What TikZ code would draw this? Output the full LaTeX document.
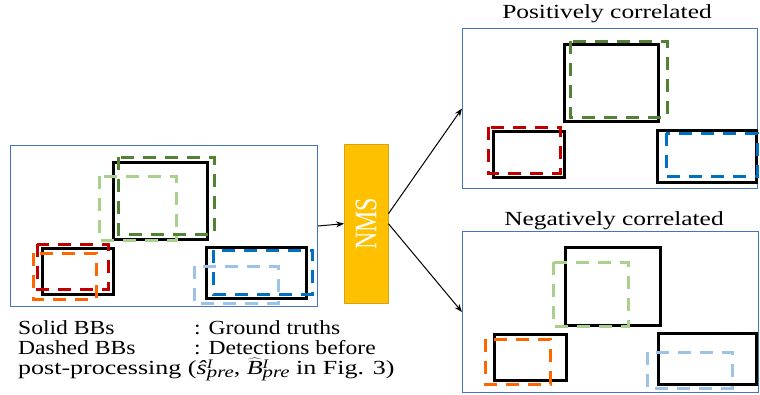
\documentclass[tikz,border=0pt]{standalone}
\usepackage{fontspec}
\setmainfont{Liberation Serif}
\usetikzlibrary{arrows.meta}

\definecolor{framecol}{HTML}{4472C4}
\definecolor{dkgreen}{HTML}{548235}
\definecolor{ltgreen}{HTML}{A9D18E}
\definecolor{dkred}{HTML}{C00000}
\definecolor{orng}{HTML}{FF6600}
\definecolor{dkblue}{HTML}{0070C0}
\definecolor{ltblue}{HTML}{9DC3E6}
\definecolor{nmsfill}{HTML}{FFC000}
\definecolor{nmsline}{HTML}{CFA420}

\newcommand{\wide}[2][1.18]{\scalebox{#1}[1]{#2}}
% small italic index pair, upper I and lower pre
\newcommand{\idx}{\makebox[0pt][l]{\raisebox{6pt}{\fontsize{13}{13}\selectfont\textit{I}}}%
    \raisebox{-3pt}{\fontsize{16}{16}\selectfont\textit{pre}}}

\tikzset{
    gt/.style={draw=black, line width=3pt},
    det/.style={line width=3pt, dash pattern=on 13pt off 9pt},
    frame/.style={draw=framecol, line width=1pt, inner sep=0pt, anchor=north west},
    txt/.style={anchor=base west, inner sep=0pt, font=\fontsize{20}{20}\selectfont},
    ttl/.style={anchor=base, inner sep=0pt, font=\fontsize{20}{20}\selectfont},
    arr/.style={-{Stealth[length=8pt, width=6pt]}, line width=1pt},
}

\begin{document}
\begin{tikzpicture}[x=1pt, y=-1pt]
    \useasboundingbox (0, 0) rectangle (760, 394);
    %\draw[lightgray] (0, 0) grid[step=50] (760, 394);

    % before NMS
    \node[frame, minimum width=307pt, minimum height=161pt] (inp) at (10, 145) {};
    \draw[gt] (113, 162) rectangle (207, 239);
    \draw[gt] (42, 248) rectangle (113, 294);
    \draw[gt] (206, 247) rectangle (306, 298);
    \draw[det, ltgreen] (99, 176) rectangle (176, 240);
    \draw[det, dkgreen] (118, 157) rectangle (214, 234);
    \draw[det, dkred] (37, 244) rectangle (108, 289);
    \draw[det, orng] (33, 253) rectangle (96, 299);
    \draw[det, dkblue] (213, 250) rectangle (312, 294);
    \draw[det, ltblue] (194, 266) rectangle (278, 303);

    % NMS block
    \node[fill=nmsfill, draw=nmsline, minimum width=44pt, minimum height=159pt,
          inner sep=0pt, anchor=north west] (nms) at (344, 144) {};
    \node[rotate=90, text=white, font=\fontsize{24}{24}\selectfont] (nmslbl) at (nms)
        {\scalebox{1}[1.3]{NMS}};

    % positively correlated
    \node[frame, minimum width=295pt, minimum height=160pt] (pos) at (462, 28) {};
    \node[ttl] (postitle) at (607, 18) {\wide[1.27]{Positively correlated}};
    \draw[gt] (564, 44) rectangle (658, 121);
    \draw[gt] (493, 131) rectangle (564, 177);
    \draw[gt] (657, 130) rectangle (756, 182);
    \draw[det, dkgreen] (570, 41) rectangle (667, 117);
    \draw[det, dkred] (488, 127) rectangle (560, 173);
    \draw[det, dkblue] (666, 133) rectangle (757, 176);

    % negatively correlated
    \node[frame, minimum width=296pt, minimum height=161pt] (neg) at (462, 231) {};
    \node[ttl] (negtitle) at (614, 225) {\wide[1.27]{Negatively correlated}};
    \draw[gt] (565, 247) rectangle (660, 325);
    \draw[gt] (494, 334) rectangle (566, 380);
    \draw[gt] (658, 333) rectangle (756, 384);
    \draw[det, ltgreen] (553, 262) rectangle (628, 326);
    \draw[det, orng] (485, 339) rectangle (550, 384);
    \draw[det, ltblue] (647, 352) rectangle (732, 388);

    \draw[arr] (inp.east) -- (nms.west);
    \draw[arr] ([yshift=10pt]nms.east) -- (pos.west);
    \draw[arr] (nms.east) -- (neg.west);

    % legend
    \node[txt] (solid) at (18, 334) {\wide{Solid BBs}};
    \node[txt] (solidtxt) at (194, 334) {\wide{: Ground truths}};
    \node[txt] (dashed) at (18, 354) {\wide{Dashed BBs}};
    \node[txt] (dashedtxt) at (194, 354) {\wide{: Detections before}};
    \node[txt] (post) at (18, 374)
        {\wide[1.3]{post-processing (\textit{ŝ}\idx, $\widehat{\textit{B}}$\idx{} in Fig. 3)}};
\end{tikzpicture}
\end{document}
